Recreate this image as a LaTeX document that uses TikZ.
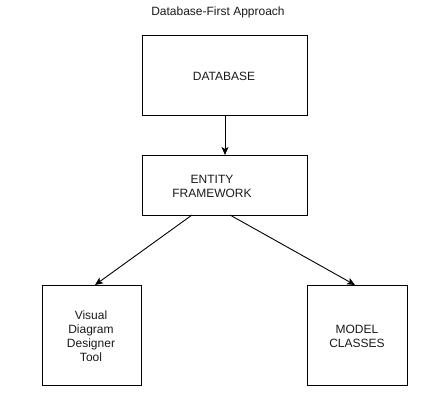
\documentclass[tikz,border=0pt]{standalone}
\usepackage{fontspec}
\setmainfont{Liberation Sans}
\usetikzlibrary{arrows.meta}
\begin{document}
\begin{tikzpicture}[x=1pt,y=-1pt,
  box/.style={draw=black,line width=1pt},
  lbl/.style={font=\fontsize{12}{14}\selectfont,align=center,inner sep=0pt,text=black!90},
  conn/.style={draw=black,line width=0.9pt,-{Stealth[length=8pt,width=7pt,inset=2pt]}}]
\useasboundingbox (0,0) rectangle (440,405);
\node[lbl] (title) at (218,12) {Database-First Approach};
\node[box,minimum width=165pt,minimum height=80pt,anchor=north west] (db) at (142,35) {};
\node[lbl] (dbt) at (224,76) {DATABASE};
\node[box,minimum width=165pt,minimum height=60pt,anchor=north west] (ef) at (142,155) {};
\node[lbl] (eft) at (212,186) {ENTITY\\FRAMEWORK};
\node[box,minimum width=99pt,minimum height=100pt,anchor=north west] (vd) at (42,285) {};
\node[lbl] (vdt) at (91,336) {Visual\\Diagram\\Designer\\Tool};
\node[box,minimum width=100pt,minimum height=100pt,anchor=north west] (mc) at (307,285) {};
\node[lbl] (mct) at (357,336) {MODEL\\CLASSES};
\coordinate (a1) at (192,215);
\coordinate (a2) at (230,215);
\coordinate (b1) at (95,285);
\coordinate (b2) at (355,285);
\draw[conn] (db.south) -- (ef.north);
\draw[conn] (a1) -- (b1);
\draw[conn] (a2) -- (b2);
\end{tikzpicture}
\end{document}
